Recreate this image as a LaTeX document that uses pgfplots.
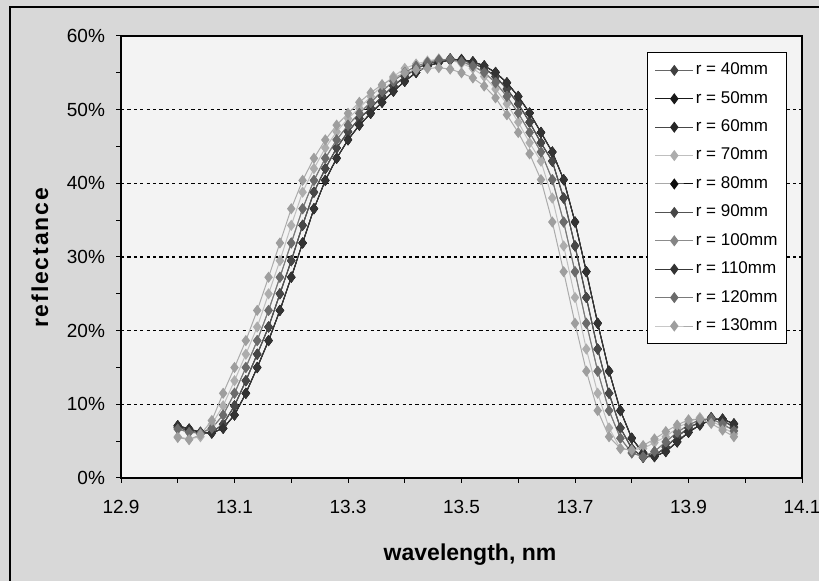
\documentclass[border=0pt]{standalone}
\usepackage{fontspec}
\setmainfont{Liberation Sans}
\usepackage{pgfplots}
\pgfplotsset{compat=1.18}
\usepackage{pgfplotstable}

\definecolor{chartbg}{HTML}{D8D8D8}
\definecolor{plotbg}{HTML}{F3F3F3}

% reflectance (%) vs wavelength (nm); a: r=40/60/90, b: r=50/80/110, c: r=100/120, d: r=70, e: r=130
\pgfplotstableread{
x     a     b     c     d     e
13.00 6.9   7.1   6.65  5.6   5.5
13.02 6.4   6.65  6.2   5.3   5.2
13.04 6.0   6.2   6.1   5.6   5.9
13.06 6.2   6.1   6.75  7.3   7.8
13.08 7.3   6.75  8.55  9.8   11.5
13.10 9.8   8.55  11.5  13.2  15.0
13.12 13.2  11.5  15.0  16.8  18.65
13.14 16.8  15.0  18.65 20.5  22.75
13.16 20.5  18.65 22.75 25.0  27.25
13.18 25.0  22.75 27.25 29.5  31.9
13.20 29.5  27.25 31.9  34.3  36.55
13.22 34.3  31.9  36.55 38.8  40.4
13.24 38.8  36.55 40.4  42.0  43.4
13.26 42.0  40.4  43.4  44.8  45.9
13.28 44.8  43.4  45.9  47.0  47.9
13.30 47.0  45.9  47.9  48.8  49.5
13.32 48.8  47.9  49.5  50.2  51.0
13.34 50.2  49.5  51.0  51.8  52.3
13.36 51.8  51.0  52.5  53.2  53.4
13.38 53.2  52.5  53.85 54.5  54.3
13.40 54.5  53.85 55.05 55.6  55.0
13.42 55.6  55.05 55.9  56.2  55.4
13.44 56.2  55.9  56.4  56.6  55.6
13.46 56.6  56.4  56.75 56.9  55.7
13.48 56.9  56.75 56.8  56.7  55.5
13.50 56.7  56.8  56.5  56.3  55.0
13.52 56.3  56.5  55.95 55.6  54.3
13.54 55.6  55.95 55.05 54.5  53.2
13.56 54.5  55.05 53.65 52.8  51.6
13.58 52.8  53.65 51.8  50.8  49.3
13.60 50.8  51.8  49.55 48.3  46.9
13.62 48.3  49.55 46.9  45.5  44.0
13.64 45.5  46.9  44.25 43.0  40.5
13.66 43.0  44.25 40.5  38.0  34.75
13.68 38.0  40.5  34.75 31.5  28.0
13.70 31.5  34.75 28.0  24.5  21.0
13.72 24.5  28.0  21.0  17.5  14.5
13.74 17.5  21.0  14.5  11.5  9.15
13.76 11.5  14.5  9.15  6.8   5.6
13.78 6.8   9.15  5.4   4.0   4.0
13.80 4.0   5.4   3.4   3.8   3.8
13.82 2.8   3.4   2.9   4.0   4.4
13.84 3.0   2.9   3.6   4.8   5.3
13.86 4.2   3.6   4.9   5.6   6.3
13.88 5.6   4.9   6.2   6.8   7.2
13.90 6.8   6.2   7.2   7.6   7.9
13.92 7.6   7.2   7.9   8.2   8.0
13.94 8.2   7.9   8.0   7.8   7.4
13.96 7.8   8.0   7.35  6.9   6.5
13.98 6.9   7.35  6.4   6.0   5.6
}\refl

\pgfplotsset{
  ser/.style n args={2}{color=#1, line width=0.5pt, mark=diamond*, mark size=2.4pt,
    mark options={solid, draw=#2, fill=#2}},
}

\begin{document}
\begin{tikzpicture}
\useasboundingbox (0pt,0pt) rectangle (409.5pt,290.5pt);
\fill[chartbg] (0pt,0pt) rectangle (409.5pt,290.5pt);
\draw[black, line width=1pt] (5pt,-5pt) -- (5pt,287pt) -- (415pt,287pt);
\begin{axis}[
  at={(60.5pt,51.5pt)}, anchor=south west,
  width=340.5pt, height=221pt, scale only axis,
  xmin=12.9, xmax=14.1, ymin=0, ymax=60,
  axis background/.style={fill=plotbg},
  axis line style={black, line width=0.6pt},
  tick pos=left, tick align=outside,
  major tick length=2.5pt, minor tick length=2.5pt,
  every tick/.style={black, line width=0.5pt},
  xtick={12.9,13.1,13.3,13.5,13.7,13.9,14.1},
  xticklabels={12.9,13.1,13.3,13.5,13.7,13.9,14.1},
  minor xtick={13.0,13.2,13.4,13.6,13.8,14.0},
  ytick={0,10,20,30,40,50,60},
  yticklabels={0\%,10\%,20\%,30\%,40\%,50\%,60\%},
  minor ytick={5,15,25,35,45,55},
  ymajorgrids,
  major grid style={black, dashed, dash pattern=on 1.6pt off 1.6pt, line width=0.55pt},
  ticklabel style={font=\fontsize{9.5}{11}\selectfont},
  yticklabel style={xshift=-2pt},
  xticklabel style={yshift=-5pt},
  xlabel={\textbf{wavelength, nm}},
  ylabel={\textbf{\addfontfeature{LetterSpace=8}reflectance}},
  label style={font=\fontsize{11.5}{13}\selectfont},
  xlabel style={at={(axis description cs:0.5125,-0.174)}, anchor=center},
  ylabel style={at={(axis description cs:-0.119,0.5)}, anchor=center},
  legend style={at={(axis description cs:0.978,0.964)}, anchor=north east,
    draw=black, fill=white, line width=0.5pt,
    font=\fontsize{8.5}{10}\selectfont,
    nodes={inner sep=1pt, text height=6.2pt, text depth=1.8pt},
    row sep=4.2pt, inner xsep=3.5pt, inner ysep=4pt},
  legend cell align=left,
  legend image code/.code={\draw[mark repeat=2,mark phase=2] plot coordinates {(0pt,0pt) (9.5pt,0pt) (19pt,0pt)};},
]
\addplot[ser={black!60}{black!75}] table[x=x,y=a] {\refl};
\addlegendentry{r = 40mm}
\addplot[ser={black!90}{black!90}] table[x=x,y=b] {\refl};
\addlegendentry{r = 50mm}
\addplot[ser={black!72}{black!85}] table[x=x,y=a] {\refl};
\addlegendentry{r = 60mm}
\addplot[ser={black!25}{black!32}] table[x=x,y=d] {\refl};
\addlegendentry{r = 70mm}
\addplot[ser={black!95}{black!95}] table[x=x,y=b] {\refl};
\addlegendentry{r = 80mm}
\addplot[ser={black!68}{black!72}] table[x=x,y=a] {\refl};
\addlegendentry{r = 90mm}
\addplot[ser={black!45}{black!48}] table[x=x,y=c] {\refl};
\addlegendentry{r = 100mm}
\addplot[ser={black!78}{black!80}] table[x=x,y=b] {\refl};
\addlegendentry{r = 110mm}
\addplot[ser={black!52}{black!58}] table[x=x,y=c] {\refl};
\addlegendentry{r = 120mm}
\addplot[ser={black!33}{black!38}] table[x=x,y=e] {\refl};
\addlegendentry{r = 130mm}
\end{axis}
\end{tikzpicture}
\end{document}
